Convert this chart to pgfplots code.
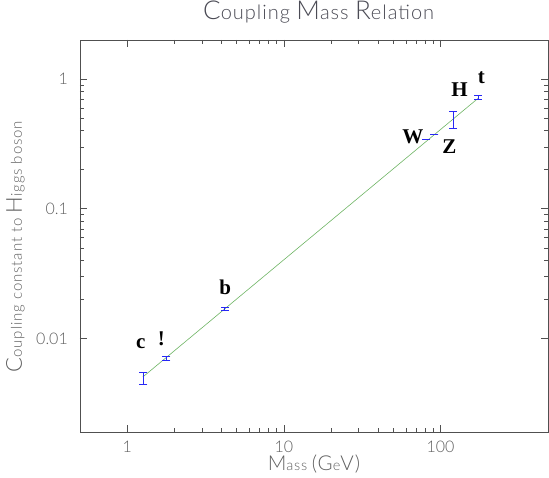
\documentclass[border=0pt]{standalone}
\usepackage{fontspec}
\setmainfont{Liberation Serif}
\newfontfamily\thin{Lato}[UprightFont=* Light, LetterSpace=5]
\newfontfamily\thiny{Lato}[UprightFont=* Light, LetterSpace=6]
\newfontfamily\numfont{Lato}[UprightFont=* Light]
\usepackage{pgfplots}
\pgfplotsset{compat=1.18}
\definecolor{txt}{RGB}{95,95,95}
\definecolor{ttl}{RGB}{75,75,85}
\definecolor{axc}{RGB}{80,80,80}
\definecolor{ebar}{RGB}{40,40,245}
\definecolor{fitc}{RGB}{110,180,100}
\newcommand\BC[1]{{\fontsize{26}{26}\selectfont #1}}
\newcommand\LC[1]{{\fontsize{20.5}{20}\selectfont #1}}
\newcommand\YC[1]{{\fontsize{22}{22}\selectfont #1}}
\begin{document}
\begin{tikzpicture}
\begin{axis}[
  scale only axis, width=468pt, height=392pt,
  xmode=log, ymode=log,
  xmin=0.5, xmax=485, ymin=0.0019, ymax=2,
  xtick={1,10,100}, xticklabels={1,10,100},
  ytick={0.01,0.1,1}, yticklabels={0.01,0.1,1},
  axis line style={axc, line width=0.6pt},
  every tick/.style={axc, line width=0.5pt},
  major tick length=7pt, minor tick length=4pt,
  tick align=inside,
  /pgf/number format/assume math mode=true,
  ticklabel style={font=\numfont\fontsize{16}{16}\selectfont, text=txt, inner sep=0pt},
  xticklabel style={anchor=base, yshift=-20pt},
  yticklabel style={anchor=east, xshift=-12pt},
  title={\thin\fontsize{20}{20}\selectfont \BC{C}oupling \BC{M}ass \BC{R}elation},
  title style={at={(axis description cs:0.51,1)}, anchor=base, yshift=14pt, inner sep=0pt, text=ttl},
  xlabel={\thin\fontsize{14.5}{14}\selectfont \LC{M}ass \LC{(G}e\LC{V)}},
  xlabel style={at={(axis description cs:0.5,0)}, anchor=base, yshift=-38pt, inner sep=0pt, text=txt},
  ylabel={\thiny\fontsize{15}{15}\selectfont \YC{C}oupling constant to \YC{H}iggs boson},
  ylabel style={at={(axis description cs:0,0.473)}, rotate=0, anchor=base, yshift=58pt, inner sep=0pt, text=txt},
]
\addplot[fitc, line width=0.6pt] coordinates {(1.26,0.00505) (173,0.708)};
% error bars: each vertical bar runs from the lower to the upper limit, caps drawn as marks
\addplot[ebar, line width=0.6pt, mark=-, mark size=4pt, mark options={solid, line width=0.6pt}] coordinates {(1.27,0.0044) (1.27,0.00548)};
\addplot[ebar, line width=0.6pt, mark=-, mark size=4pt, mark options={solid, line width=0.6pt}] coordinates {(1.777,0.00682) (1.777,0.00728)};
\addplot[ebar, line width=0.6pt, mark=-, mark size=4pt, mark options={solid, line width=0.6pt}] coordinates {(4.18,0.01635) (4.18,0.01725)};
\addplot[ebar, line width=0.6pt, mark=-, mark size=4pt, mark options={solid, line width=0.6pt}] coordinates {(80.4,0.341) (80.4,0.345)};
\addplot[ebar, line width=0.6pt, mark=-, mark size=4pt, mark options={solid, line width=0.6pt}] coordinates {(91.2,0.373) (91.2,0.377)};
\addplot[ebar, line width=0.6pt, mark=-, mark size=4pt, mark options={solid, line width=0.6pt}] coordinates {(120,0.415) (120,0.568)};
\addplot[ebar, line width=0.6pt, mark=-, mark size=4pt, mark options={solid, line width=0.6pt}] coordinates {(173,0.693) (173,0.747)};
\begin{scope}[every node/.style={font=\bfseries\fontsize{21}{21}\selectfont, anchor=base, inner sep=0pt}]
\node at (axis cs:1.22,0.00832) {c};
\node at (axis cs:1.656,0.00883) {!};
\node at (axis cs:4.23,0.0218) {b};
\node at (axis cs:66.5,0.319) {W};
\node at (axis cs:114,0.267) {Z};
\node at (axis cs:132,0.734) {H};
\node at (axis cs:182,0.931) {t};
\end{scope}
\end{axis}
\pgfresetboundingbox
\useasboundingbox (-80pt,-45pt) rectangle (469pt,432pt);
\end{tikzpicture}
\end{document}
